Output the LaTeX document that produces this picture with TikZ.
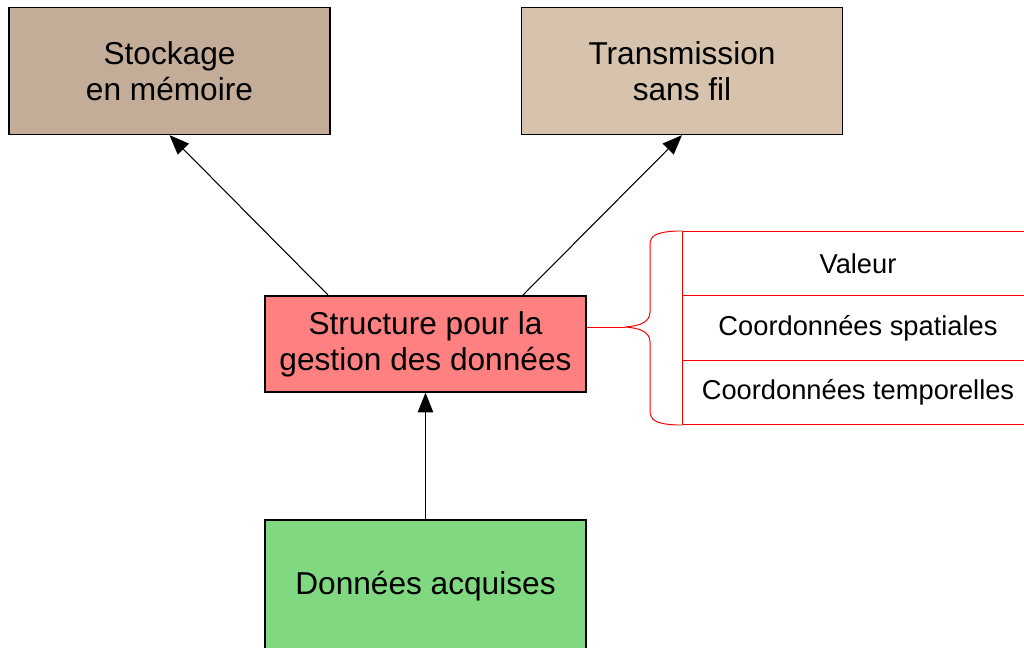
\documentclass[tikz,border=0pt]{standalone}
\usepackage{fontspec}
\setmainfont{Liberation Sans}
\usetikzlibrary{arrows.meta}

\definecolor{brunstock}{RGB}{195,173,153}
\definecolor{beigetrans}{RGB}{214,194,173}
\definecolor{rougestruct}{RGB}{255,128,128}
\definecolor{vertdonnees}{RGB}{128,216,128}

\tikzset{
  bloc/.style={draw=black, line width=0.9pt, minimum width=8.025cm, align=center,
    inner sep=0pt, font=\fontsize{22.5}{25.5}\selectfont},
  champ/.style={draw=red, line width=0.7pt, minimum width=8.75cm, minimum height=1.6cm,
    inner sep=0pt, font=\fontsize{19.4}{22}\selectfont},
  fleche/.style={-{Triangle[length=14pt,width=11pt]}, line width=0.75pt},
}

\begin{document}
\begin{tikzpicture}[x=0.025cm, y=-0.025cm]
    \useasboundingbox (0,0) rectangle (1024,648);

    % blocs principaux
    \node[bloc, fill=brunstock, minimum height=3.175cm] (stockage) at (169.5,71)
        {Stockage\\en mémoire};
    \node[bloc, fill=beigetrans, minimum height=3.175cm] (transmission) at (682,71)
        {Transmission\\sans fil};
    \node[bloc, fill=rougestruct, minimum height=2.4cm] (structure) at (425.5,344)
        {Structure pour la\\gestion des données};
    \node[bloc, fill=vertdonnees, minimum height=3.3cm] (donnees) at (425.5,586)
        {Données acquises};

    % champs de la structure
    \node[champ] (valeur) at (858,263.5) {Valeur};
    \node[champ] (spatial) at (858,328) {Coordonnées spatiales};
    \node[champ] (temporel) at (858,392.5) {Coordonnées temporelles};

    % accolade
    \coordinate (pointe) at (625,327);
    \draw[red, line width=0.7pt] (valeur.north west) -- (677,231)
        .. controls (655,232) and (650,236) .. (650,245) -- (650,312)
        .. controls (650,322) and (640,326) .. (pointe)
        .. controls (640,328) and (650,332) .. (650,342) -- (650,410)
        .. controls (650,420) and (655,424) .. (677,425) -- (temporel.south west);
    \draw[red, line width=0.7pt] (pointe -| structure.east) -- (pointe);

    % fleches
    \draw[fleche] (donnees.north) -- (structure.south);
    \draw[fleche] ([xshift=1.6cm]structure.north west) -- (stockage.south);
    \draw[fleche] ([xshift=-1.6cm]structure.north east) -- (transmission.south);
\end{tikzpicture}
\end{document}
